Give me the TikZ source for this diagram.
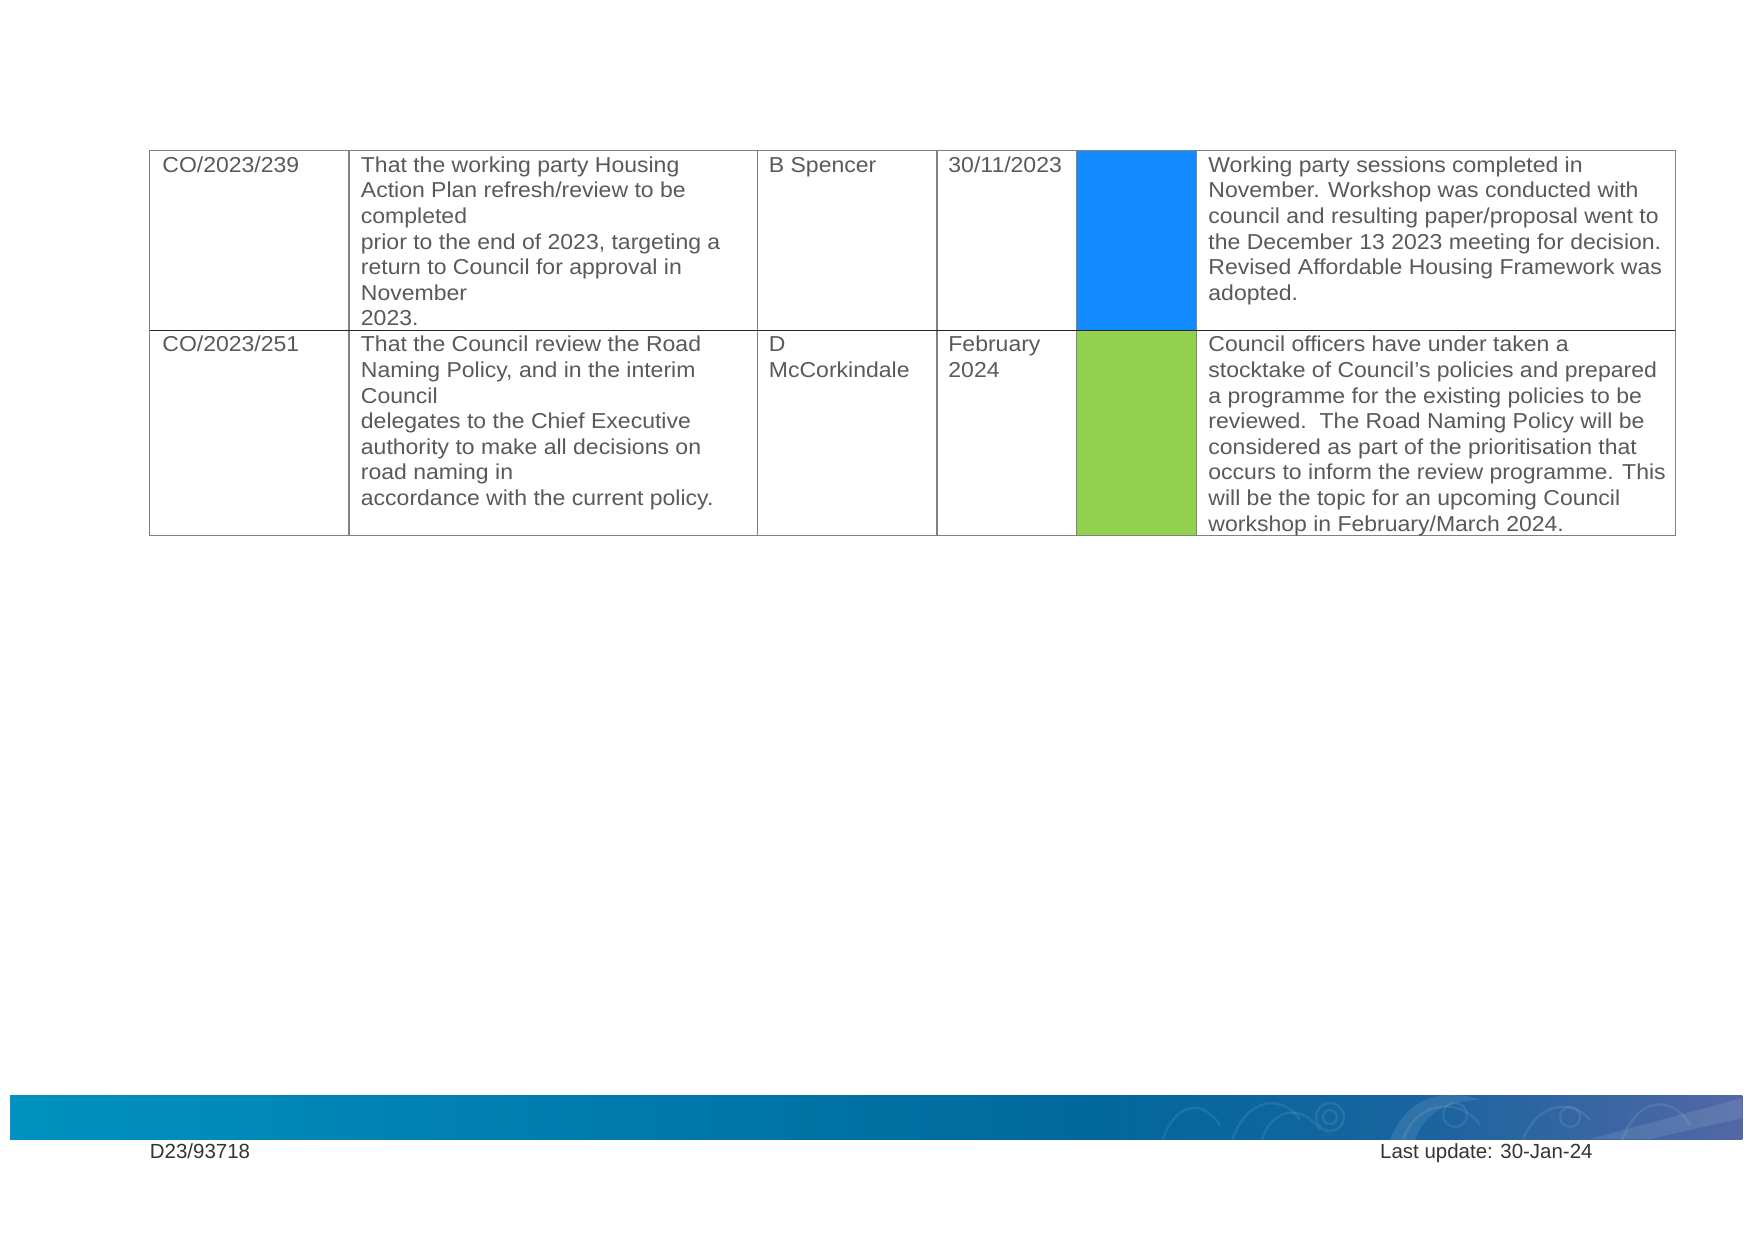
\documentclass[tikz,border=0pt]{standalone}
\usepackage{fontspec}
\setmainfont{Liberation Sans}
\newfontfamily\cellfont[FakeStretch=1.065]{Liberation Sans}
\definecolor{txt}{HTML}{595959}
\definecolor{rule}{HTML}{808080}
\definecolor{sepline}{HTML}{262626}
\definecolor{doneblue}{HTML}{128AFF}
\definecolor{okgreen}{HTML}{92D050}
\definecolor{fa}{RGB}{0,146,192}
\definecolor{fb}{RGB}{0,104,156}
\definecolor{fc}{RGB}{26,100,160}
\definecolor{fd}{RGB}{82,104,165}
\pgfdeclarehorizontalshading{footbar}{100bp}{color(0bp)=(fa); color(25bp)=(fa); color(56bp)=(fb); color(66bp)=(fc); color(75bp)=(fd); color(100bp)=(fd)}
\tikzset{
  cell/.style={anchor=base west, inner sep=0pt, text=txt},
  foot/.style={anchor=base west, inner sep=0pt, text=black!80, font=\fontsize{9.85pt}{12pt}\selectfont},
  gridline/.style={draw=rule, line width=0.6pt},
}
\newcommand{\celltext}[2]{\parbox[t]{#1}{\raggedright\cellfont\fontsize{10.4pt}{12.32pt}\selectfont #2}}
\begin{document}
\begin{tikzpicture}[x=0.4814pt, y=-0.4814pt]
\useasboundingbox (0,0) rectangle (1749,1237);
% status fills
\fill[doneblue] (1076.4,150.6) rectangle (1196.8,330.2);
\fill[okgreen] (1076.4,330.2) rectangle (1196.8,535.4);
% grid
\draw[gridline] (149.5,150.6) rectangle (1675.4,535.4);
\foreach \xx in {349.1,757.4,937.0,1076.4,1196.8}
  \draw[gridline] (\xx,150.6) -- (\xx,535.4);
\draw[draw=sepline, line width=0.6pt] (149.5,330.2) -- (1675.4,330.2);
% row 1
\node[cell] (r1c1) at (162,172.3) {\celltext{150pt}{CO/2023/239}};
\node[cell] (r1c2) at (360.5,172.3) {\celltext{210pt}{That the working party Housing\\Action Plan refresh/review to be\\completed\\prior to the end of 2023, targeting a\\return to Council for approval in\\November\\2023.}};
\node[cell] (r1c3) at (768.5,172.3) {\celltext{100pt}{B Spencer}};
\node[cell] (r1c4) at (948,172.3) {\celltext{100pt}{30/11/2023}};
\node[cell] (r1c6) at (1208,172.3) {\celltext{250pt}{Working party sessions completed in\\November. Workshop was conducted with\\council and resulting paper/proposal went to\\the December 13 2023 meeting for decision.\\Revised Affordable Housing Framework was\\adopted.}};
% row 2
\node[cell] (r2c1) at (162,351.9) {\celltext{150pt}{CO/2023/251}};
\node[cell] (r2c2) at (360.5,351.9) {\celltext{210pt}{That the Council review the Road\\Naming Policy, and in the interim\\Council\\delegates to the Chief Executive\\authority to make all decisions on\\road naming in\\accordance with the current policy.}};
\node[cell] (r2c3) at (768.5,351.9) {\celltext{100pt}{D\\McCorkindale}};
\node[cell] (r2c4) at (948,351.9) {\celltext{100pt}{February\\2024}};
\node[cell] (r2c6) at (1208,351.9) {\celltext{250pt}{Council officers have under taken a\\stocktake of Council’s policies and prepared\\a programme for the existing policies to be\\reviewed.\ \ The Road Naming Policy will be\\considered as part of the prioritisation that\\occurs to inform the review programme. This\\will be the topic for an upcoming Council\\workshop in February/March 2024.}};
% footer bar
\shade[shading=footbar] (10,1095.5) rectangle (1742.3,1139);
\begin{scope}
  \clip (10,1095.5) rectangle (1742.3,1139);
  \begin{scope}[draw=white, draw opacity=0.09, line width=1.1pt]
    \draw (1160,1150) .. controls (1170,1105) and (1200,1095) .. (1220,1125);
    \draw (1230,1150) .. controls (1240,1100) and (1280,1090) .. (1300,1120);
    \draw (1260,1150) .. controls (1265,1110) and (1300,1100) .. (1320,1130);
    \draw (1330,1117) circle (14);
    \draw (1330,1117) circle (7);
    \draw (1400,1150) .. controls (1410,1100) and (1460,1095) .. (1480,1125);
    \draw (1455,1115) circle (12);
    \draw (1520,1150) .. controls (1530,1105) and (1570,1095) .. (1590,1120);
    \draw (1570,1117) circle (10);
    \draw (1620,1150) .. controls (1630,1100) and (1670,1090) .. (1690,1125);
  \end{scope}
  \fill[white, opacity=0.10] (1385,1160) .. controls (1395,1100) and (1440,1085) .. (1480,1100) .. controls (1440,1100) and (1415,1120) .. (1410,1160) -- cycle;
  \fill[white, opacity=0.10] (1590,1139) -- (1742.3,1098) -- (1742.3,1118) -- (1650,1139) -- cycle;
\end{scope}
\node[foot] (docid) at (149.5,1158.5) {D23/93718};
\node[foot] (upd) at (1379.8,1158.5) {Last update: 30-Jan-24};
\end{tikzpicture}
\end{document}
